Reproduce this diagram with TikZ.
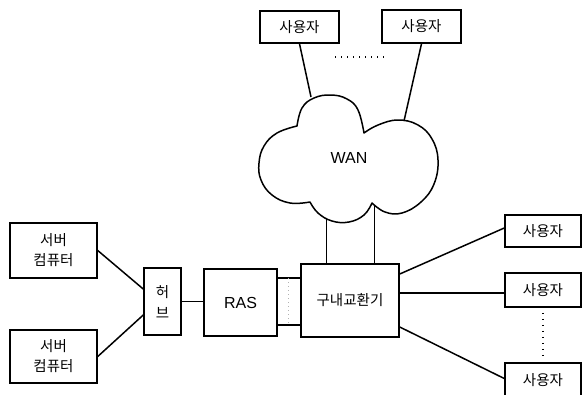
\documentclass[tikz,border=0pt]{standalone}
\usepackage{fontspec}
\setmainfont{Liberation Sans}
\newfontfamily\kr{Noto Sans CJK KR}
\begin{document}
\begin{tikzpicture}[x=1pt,y=-1pt,
  box/.style={draw,line width=1.5pt,inner sep=0pt,align=center,font=\kr\fontsize{14.5}{20}\selectfont},
  link/.style={line width=1.5pt},
  thin link/.style={line width=1pt},
  dotline/.style={line width=1.3pt,dash pattern=on 1.2pt off 4.8pt},
  grey dots/.style={gray!60,line width=0.8pt,dash pattern=on 1pt off 3pt},
  lat/.style={font=\fontsize{16}{18}\selectfont}]
\useasboundingbox (0,0) rectangle (583,394);

% top users
\node[box,minimum width=79pt,minimum height=32pt] (u1) at (299.5,27) {사용자};
\node[box,minimum width=79pt,minimum height=33pt] (u2) at (421.5,26.5) {사용자};
\coordinate (d1) at (335,57);
\coordinate (d2) at (386,57);
\draw[dotline] (d1) -- (d2);

% cloud
\draw[line width=1.5pt,line join=round]
  plot[smooth,tension=0.7] coordinates {(297,126) (302,108) (314,98) (331,95) (347,99) (358,110) (364,133)}
  -- plot[smooth,tension=0.7] coordinates {(364,133) (378,125) (398,120) (418,125) (432,139) (438,160) (434,184) (421,202) (402,213) (385,212) (372,203)}
  -- plot[smooth,tension=0.7] coordinates {(372,203) (364,215) (349,222) (332,221) (318,213) (310,202)}
  -- plot[smooth,tension=0.7] coordinates {(310,202) (290,203) (272,195) (261,180) (259,163) (264,146) (277,133) (297,126)}
  -- cycle;
\node[lat] (wan) at (349,158) {WAN};
\coordinate (c1) at (311,97);
\coordinate (c2) at (404,121);
\coordinate (c3) at (326,219);
\coordinate (c4) at (374,205);

% lower left
\node[box,minimum width=87pt,minimum height=55pt] (srv1) at (53.5,250.5) {서버\\컴퓨터};
\node[box,minimum width=87pt,minimum height=53pt] (srv2) at (53.5,356.5) {서버\\컴퓨터};
\node[box,minimum width=37pt,minimum height=67pt,font=\kr\fontsize{14.5}{21}\selectfont] (hub) at (162.5,301.5) {허\\브};
\node[box,minimum width=73pt,minimum height=67pt,lat] (ras) at (240.5,302.5) {RAS};
\node[box,minimum width=98pt,minimum height=73pt] (pbx) at (350,300.5) {구내교환기};

% right users
\node[box,minimum width=76pt,minimum height=32pt] (ua) at (543,231) {사용자};
\node[box,minimum width=76pt,minimum height=34pt] (ub) at (543,290) {사용자};
\node[box,minimum width=76pt,minimum height=34pt] (uc) at (543,380) {사용자};

% connectors
\draw[link] (u1.south) -- (c1);
\draw[link] (u2.south) -- (c2);
\draw[thin link] (c3) -- (c3 |- pbx.north);
\draw[thin link] (c4) -- (c4 |- pbx.north);

\draw[link] (srv1.east) -- ([yshift=12.5pt]hub.west);
\draw[link] (srv2.east) -- ([yshift=-13.5pt]hub.west);
\draw[link] (hub.east) -- (hub.east -| ras.west);

\draw[link] ([yshift=24.5pt]ras.east) coordinate (r1) -- (r1 -| pbx.west);
\draw[link] ([yshift=-22.5pt]ras.east) coordinate (r2) -- (r2 -| pbx.west);
\draw[grey dots] ([xshift=11pt]r1) -- ([xshift=11pt]r2);

\draw[link] ([yshift=26.5pt]pbx.east) -- ([yshift=3pt]ua.west);
\draw[link] ([yshift=7.5pt]pbx.east) coordinate (p2) -- (p2 -| ub.west);
\draw[link] ([yshift=-26.5pt]pbx.east) -- ([yshift=1.5pt]uc.west);
\draw[dotline] ([yshift=-5pt]ub.south) -- ([yshift=4pt]uc.north);
\end{tikzpicture}
\end{document}
